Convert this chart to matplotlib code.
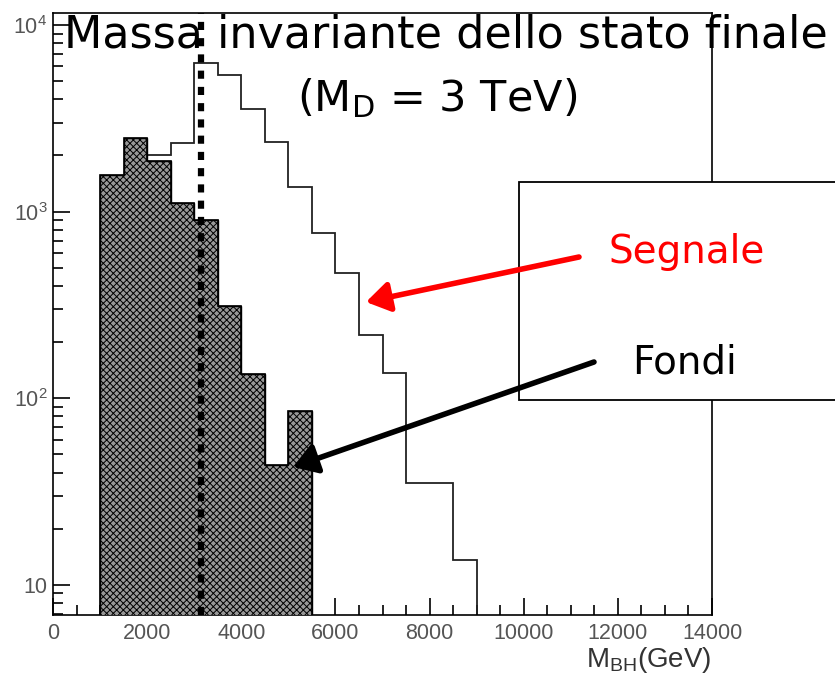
import numpy as np
import matplotlib
matplotlib.use('Agg')
import matplotlib.pyplot as plt
from matplotlib.patches import Rectangle, FancyArrowPatch

matplotlib.rcParams['mathtext.default'] = 'regular'
matplotlib.rcParams['hatch.linewidth'] = 0.7

# background (filled, hatched) histogram, 500 GeV bins
bkg_edges = [1000, 1500, 2000, 2500, 3000, 3500, 4000, 4500, 5000, 5500]
bkg_counts = [1580, 2480, 1860, 1110, 900, 312, 135, 44, 85]

# signal (open) histogram
sig_edges = [2000, 2500, 3000, 3500, 4000, 4500, 5000, 5500, 6000, 6500,
             7000, 7500, 8000, 8500, 9000]
sig_counts = [2000, 2330, 6270, 5430, 3570, 2360, 1360, 765, 472, 219,
              137, 35, 35, 13.6]

md_line = 3150
x_ticks = [0, 2000, 4000, 6000, 8000, 10000, 12000, 14000]

fig = plt.figure(figsize=(8.35, 6.78), dpi=100)
ax = fig.add_axes([0.0635, 0.093, 0.7892, 0.8878])

ax.stairs(sig_counts, sig_edges, baseline=1, color='#222222', lw=1.3, zorder=2)
ax.stairs(bkg_counts, bkg_edges, baseline=1, fill=True, facecolor='#999999',
          edgecolor='black', hatch='xxxxx', lw=1.0, zorder=3)
ax.stairs(bkg_counts, bkg_edges, baseline=1, color='black', lw=1.2, zorder=4)
ax.axvline(md_line, color='black', lw=4.5, linestyle=(0, (1.3, 1.3)),
           dash_capstyle='butt', zorder=5)

ax.set_yscale('log')
ax.set_xlim(0, 14000)
ax.set_ylim(6.9, 11600)
ax.set_xticks(x_ticks)
ax.set_xticks(np.arange(0, 14001, 500), minor=True)
ax.set_yticks([10, 100, 1000, 10000])
ax.set_yticklabels(['10', '$10^{2}$', '$10^{3}$', '$10^{4}$'])
ax.tick_params(axis='both', which='major', direction='in', length=12, width=1.2,
               labelsize=15.5, labelcolor='#555555')
ax.tick_params(axis='both', which='minor', direction='in', length=7, width=1.2)
ax.tick_params(axis='x', pad=6)
ax.tick_params(axis='y', pad=4)
for lab in ax.get_xticklabels() + ax.get_yticklabels():
    lab.set_family('Liberation Sans')
for s in ax.spines.values():
    s.set_linewidth(1.2)

fig.text(712 / 835, 1 - 660 / 678, 'M$_{BH}$(GeV)', fontsize=20, color='#333333',
         family='Liberation Sans', ha='right', va='center')

fig.text(0.534, 0.948, 'Massa invariante dello stato finale', fontsize=32,
         ha='center', va='center', zorder=10)
fig.text(0.523, 0.855, '(M$_D$ = 3 TeV)', fontsize=31, ha='center', va='center', zorder=10)

fig.add_artist(Rectangle((519 / 835, 1 - 400 / 678), 0.4, 218 / 678,
                         transform=fig.transFigure, facecolor='white',
                         edgecolor='black', lw=1.3, zorder=6))
fig.text(0.822, 0.628, 'Segnale', fontsize=28, color='red', ha='center', va='center', zorder=10)
fig.text(0.820, 0.465, 'Fondi', fontsize=28, color='black', ha='center', va='center', zorder=10)

fig.add_artist(FancyArrowPatch(
    (579 / 835, 1 - 257 / 678), (366 / 835, 1 - 302 / 678), transform=fig.transFigure,
    arrowstyle='-|>,head_length=0.7,head_width=0.45', color='red', lw=4,
    mutation_scale=20, shrinkA=0, shrinkB=0, zorder=9))
fig.add_artist(FancyArrowPatch(
    (594 / 835, 1 - 362 / 678), (293 / 835, 1 - 467 / 678), transform=fig.transFigure,
    arrowstyle='-|>,head_length=0.7,head_width=0.45', color='black', lw=4,
    mutation_scale=20, shrinkA=0, shrinkB=0, zorder=9))

fig.savefig('out.png', dpi=100)
